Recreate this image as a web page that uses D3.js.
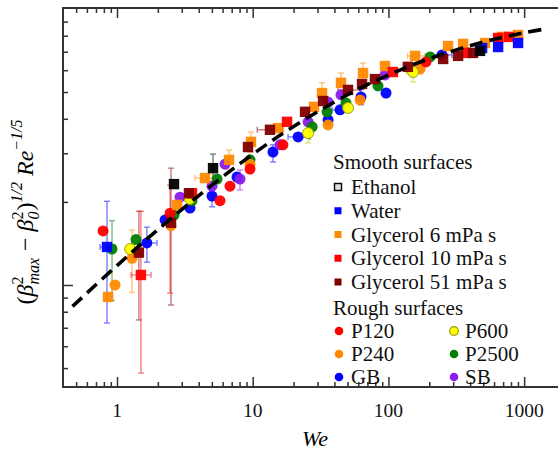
<!DOCTYPE html>
<html><head><meta charset="utf-8">
<script src="https://cdn.jsdelivr.net/npm/d3@7"></script>
<style>body{margin:0;background:#fff}svg{display:block}</style>
</head><body><svg id="c" width="558" height="452"></svg>
<script>
// ---------- data (We, y) ----------
const xMajorTicks = [1, 10, 100, 1000];
const xTickLabels = ["1", "10", "100", "1000"];
const yMajorTicks = [1];

const ethanol = [[2.63,2.32],[5.1,2.65],[473,7.05]];
const water = [[0.844,1.373],[490,7.22],[643,7.28],[902,7.53]];
const gly6 = [[0.859,0.905],[2.77,1.95],[4.45,2.44],[6.69,2.84],[9.71,3.30],[15.4,3.70],[28.3,4.42],[32.4,4.96],[44.7,5.40],[65.0,5.86],[94.4,6.21],[157,6.76],[275,7.34],[355,7.47],[515,7.53],[687,7.92],[902,8.05]];
const gly10 = [[1.50,1.087],[3.57,2.15],[17.9,3.90],[108,5.91],[373,6.93],[643,7.85],[774,7.92]];
const gly51 = [[1.45,1.31],[2.50,1.68],[3.39,2.15],[9.23,3.16],[13.4,3.65],[24.3,4.24],[33.0,4.64],[50.4,5.09],[63.9,5.35],[79.6,5.57],[139,6.17],[253,6.59],[326,6.76],[420,6.93]];
const p120 = [[0.789,1.57],[2.46,1.82],[5.74,2.02],[6.80,2.28],[9.55,2.63],[16.7,3.22],[189,6.43]];
const p240 = [[0.967,1.0],[1.29,1.25],[2.50,1.64],[9.55,2.74],[35.9,3.80],[61.8,4.68],[171,6.06]];
const p600 = [[1.25,1.35],[3.45,2.05],[25.6,3.55],[50.4,4.38],[152,5.91]];
const p2500 = [[0.919,1.35],[1.38,1.46],[2.63,1.79],[3.57,2.02],[5.46,2.42],[9.55,2.84],[27.4,3.74],[35.3,4.24],[48.7,4.56],[83.8,5.26],[203,6.70]];
const gb = [[1.66,1.42],[2.26,1.72],[3.45,1.90],[5.01,2.10],[7.66,2.46],[14.1,3.03],[21.6,3.44],[35.9,3.96],[44.0,4.31],[62.8,4.80],[96.0,4.96],[248,6.81]];
const sb = [[2.91,2.08],[5.01,2.28],[6.25,2.74],[8.06,2.42],[15.9,3.22],[25.6,3.90],[35.9,4.60],[44.7,4.88],[94.4,5.77]];

// error bars: [series, We, y, WeLo, WeHi, yLo, yHi]
const errorBars = [
  ["water",0.844,1.373,0.75,0.966,0.728,2.01],
  ["p2500",0.919,1.35,null,null,0.88,1.71],
  ["p120",0.789,1.57,0.74,0.84,null,null],
  ["p240",1.29,1.25,null,null,0.94,1.58],
  ["gly51",1.45,1.31,null,null,0.747,1.85],
  ["gly10",1.50,1.087,1.27,1.78,0.48,1.85],
  ["gb",1.66,1.42,1.43,1.97,1.21,1.62],
  ["gly51",2.50,1.68,null,null,0.846,2.65],
  ["p120",2.46,1.82,null,null,0.935,2.30],
  ["ethanol",5.1,2.65,null,null,2.36,2.98],
  ["gly6",4.45,2.44,3.76,5.28,null,null],
  ["gly6",6.69,2.84,null,null,2.61,3.08],
  ["gly6",9.71,3.30,null,null,3.03,3.58],
  ["gly51",13.4,3.65,10.8,16.7,null,null],
  ["gb",14.1,3.03,null,null,2.79,3.22],
  ["sb",8.06,2.42,null,null,2.21,2.61],
  ["gb",5.01,2.10,null,null,1.92,2.25],
  ["p600",25.6,3.55,null,null,3.27,3.86],
  ["gb",21.6,3.44,18.2,26.4,null,null],
  ["gly6",32.4,4.96,null,null,4.56,5.40],
  ["gly6",44.7,5.40,null,null,4.96,5.86],
  ["gly6",65.0,5.86,null,null,5.40,6.37],
  ["gb",44.0,4.31,38.4,52.1,null,null],
  ["gly51",50.4,5.09,42.5,61.8,null,null],
  ["p600",152,5.91,135,175,5.44,6.32],
  ["gly6",157,6.76,138,185,null,null],
  ["gb",248,6.81,209,294,null,null],
  ["gb",62.8,4.80,null,null,4.50,5.10]
];

// dashed fit line
const fitWe = [0.47,1,2,5,10,20,50,100,200,500,1000,1500];
const fitY  = [0.837,1.176,1.587,2.30,2.975,3.753,4.887,5.764,6.604,7.583,8.195,8.50];

const seriesInfo = {
  ethanol:{name:"Ethanol", data:ethanol, shape:"square", color:"#000000"},
  water:{name:"Water", data:water, shape:"square", color:"#0000ff"},
  gly6:{name:"Glycerol 6 mPa s", data:gly6, shape:"square", color:"#ff8a00"},
  gly10:{name:"Glycerol 10 mPa s", data:gly10, shape:"square", color:"#ff0000"},
  gly51:{name:"Glycerol 51 mPa s", data:gly51, shape:"square", color:"#800000"},
  p120:{name:"P120", data:p120, shape:"circle", color:"#ff0000"},
  p240:{name:"P240", data:p240, shape:"circle", color:"#ff8a00"},
  p600:{name:"P600", data:p600, shape:"circle", color:"#ffff00", stroke:"#9a9a00"},
  p2500:{name:"P2500", data:p2500, shape:"circle", color:"#008000"},
  gb:{name:"GB", data:gb, shape:"circle", color:"#0000ff"},
  sb:{name:"SB", data:sb, shape:"circle", color:"#8a1cf0"}
};
const drawOrder = ["gb","sb","p2500","p240","p120","p600","gly6","gly10","gly51","water","ethanol"];

// ---------- layout ----------
const L = 63, R = 557, T = 8, B = 387;
const svg = d3.select("#c");
const x = d3.scaleLog().domain([0.400, 1746]).range([L, R]);
const y = d3.scaleLog().domain([0.427, 10.08]).range([B, T]);
const serif = "'Liberation Serif','Times New Roman',serif";
const axisColor = "#333";

function minorLog(domain){
  const out=[]; for(let e=-2;e<5;e++){const d=Math.pow(10,e);for(let k=2;k<=9;k++){const v=k*d; if(v>domain[0]*1.01 && v<domain[1]*0.99) out.push(v);}}
  return out;
}
const xMinor = minorLog(x.domain());
const yMinor = minorLog(y.domain());

function styleAxis(g){ g.select(".domain").remove(); g.selectAll("line").attr("stroke",axisColor).attr("stroke-width",1.5); g.selectAll("text").remove(); }

svg.append("g").attr("transform",`translate(0,${B})`).call(d3.axisBottom(x).tickValues(xMinor).tickSizeInner(-5).tickSizeOuter(0).tickFormat("")).call(styleAxis);
svg.append("g").attr("transform",`translate(0,${B})`).call(d3.axisBottom(x).tickValues(xMajorTicks).tickSizeInner(-10).tickSizeOuter(0).tickFormat("")).call(styleAxis);
svg.append("g").attr("transform",`translate(0,${T})`).call(d3.axisTop(x).tickValues(xMinor).tickSizeInner(-5).tickSizeOuter(0).tickFormat("")).call(styleAxis);
svg.append("g").attr("transform",`translate(0,${T})`).call(d3.axisTop(x).tickValues(xMajorTicks).tickSizeInner(-10).tickSizeOuter(0).tickFormat("")).call(styleAxis);
svg.append("g").attr("transform",`translate(${L},0)`).call(d3.axisLeft(y).tickValues(yMinor).tickSizeInner(-5).tickSizeOuter(0).tickFormat("")).call(styleAxis);
svg.append("g").attr("transform",`translate(${L},0)`).call(d3.axisLeft(y).tickValues(yMajorTicks).tickSizeInner(-10).tickSizeOuter(0).tickFormat("")).call(styleAxis);

svg.append("line").attr("x1",L).attr("x2",558).attr("y1",T).attr("y2",T).attr("stroke",axisColor).attr("stroke-width",2);
svg.append("line").attr("x1",L).attr("x2",558).attr("y1",B).attr("y2",B).attr("stroke",axisColor).attr("stroke-width",2);
svg.append("line").attr("x1",L).attr("x2",L).attr("y1",T-1).attr("y2",B+1).attr("stroke",axisColor).attr("stroke-width",2);

svg.append("g").selectAll("text").data(xMajorTicks).join("text")
  .attr("x",d=>x(d)).attr("y",417).attr("text-anchor","middle")
  .attr("font-family",serif).attr("font-size",19.5).attr("fill","#111")
  .text((d,i)=>xTickLabels[i]);

svg.append("text").attr("x",315).attr("y",446).attr("text-anchor","middle")
  .attr("font-family",serif).attr("font-size",22).attr("font-style","italic").text("We");

(function(){
  const g = svg.append("g").attr("transform","translate(33,212) rotate(-90)");
  const big=24, small=16;
  const pieces = [
    {t:"(", s:big},
    {t:"β", s:big, it:true},
    {stack:["2","max"], s:small},
    {t:" − ", s:big},
    {t:"β", s:big, it:true},
    {stack:["2","0"], s:small},
    {t:")", s:big},
    {t:"1/2", s:small, dy:-11, it:true},
    {t:" ", s:big},
    {t:"Re", s:big, it:true},
    {t:"−1/5", s:small, dy:-11, it:true}
  ];
  let cx=0; const els=[];
  pieces.forEach(p=>{
    if(p.stack){
      const a=g.append("text").attr("font-family",serif).attr("font-size",p.s).attr("y",-10).text(p.stack[0]);
      const b=g.append("text").attr("font-family",serif).attr("font-size",p.s).attr("font-style","italic").attr("y",6).text(p.stack[1]);
      a.attr("x",cx); b.attr("x",cx);
      els.push(a,b);
      cx += Math.max(a.node().getComputedTextLength(), b.node().getComputedTextLength())+1;
    } else {
      const e=g.append("text").attr("font-family",serif).attr("font-size",p.s).attr("y",p.dy||0)
        .attr("font-style",p.it?"italic":"normal").style("white-space","pre").text(p.t);
      e.attr("x",cx); els.push(e);
      cx += e.node().getComputedTextLength();
    }
  });
  const off=-cx/2;
  els.forEach(e=>e.attr("x",+e.attr("x")+off));
})();

svg.append("clipPath").attr("id","clip").append("rect").attr("x",L).attr("y",T).attr("width",R-L+2).attr("height",B-T);
const plot = svg.append("g").attr("clip-path","url(#clip)");

const eg = plot.append("g");
errorBars.forEach(([k,wx,wy,xl,xh,yl,yh])=>{
  const c = k==="p600" ? "#c8c800" : seriesInfo[k].color;
  const px=x(wx), py=y(wy), cap=3;
  const grp = eg.append("g").attr("stroke",c).attr("stroke-width",1.3).attr("opacity",0.55);
  if(yl!=null){
    grp.append("line").attr("x1",px).attr("x2",px).attr("y1",y(yl)).attr("y2",y(yh));
    grp.append("line").attr("x1",px-cap).attr("x2",px+cap).attr("y1",y(yl)).attr("y2",y(yl));
    grp.append("line").attr("x1",px-cap).attr("x2",px+cap).attr("y1",y(yh)).attr("y2",y(yh));
  }
  if(xl!=null){
    grp.append("line").attr("x1",x(xl)).attr("x2",x(xh)).attr("y1",py).attr("y2",py);
    grp.append("line").attr("x1",x(xl)).attr("x2",x(xl)).attr("y1",py-cap).attr("y2",py+cap);
    grp.append("line").attr("x1",x(xh)).attr("x2",x(xh)).attr("y1",py-cap).attr("y2",py+cap);
  }
});

drawOrder.forEach(k=>{
  const s = seriesInfo[k];
  const g = plot.append("g").attr("opacity",0.95);
  if(s.shape==="square"){
    g.selectAll("rect").data(s.data).join("rect")
      .attr("x",d=>x(d[0])-5.2).attr("y",d=>y(d[1])-5.2).attr("width",10.4).attr("height",10.4)
      .attr("fill",s.color);
  } else {
    g.selectAll("circle").data(s.data).join("circle")
      .attr("cx",d=>x(d[0])).attr("cy",d=>y(d[1])).attr("r",5.5)
      .attr("fill",s.color).attr("stroke",s.stroke||"none").attr("stroke-width",1);
  }
});

const fitPts = fitWe.map((w,i)=>[w,fitY[i]]);
plot.append("path").datum(fitPts)
  .attr("d",d3.line().x(d=>x(d[0])).y(d=>y(d[1])).curve(d3.curveCatmullRom))
  .attr("fill","none").attr("stroke","#000").attr("stroke-width",3.6).attr("stroke-dasharray","13,7");

const lg = svg.append("g").attr("font-family",serif).attr("font-size",21).attr("fill","#111");
lg.append("text").attr("x",333).attr("y",169).text("Smooth surfaces");
const smoothKeys=["ethanol","water","gly6","gly10","gly51"];
smoothKeys.forEach((k,i)=>{
  const cy = 187 + i*23.75, s=seriesInfo[k];
  lg.append("rect").attr("x",334.5).attr("y",cy-3.5).attr("width",7).attr("height",7)
    .attr("fill",k==="ethanol"?"#dcdcdc":s.color).attr("stroke",k==="ethanol"?"#000":"none").attr("stroke-width",1.4);
  lg.append("text").attr("x",351).attr("y",cy+7).text(s.name);
});
lg.append("text").attr("x",333).attr("y",315).text("Rough surfaces");
const roughKeys=[["p120","p600"],["p240","p2500"],["gb","sb"]];
roughKeys.forEach((row,i)=>{
  const cy = 331 + i*23;
  row.forEach((k,j)=>{
    const s=seriesInfo[k], mx = j===0?339:454, tx = j===0?351:465;
    lg.append("circle").attr("cx",mx).attr("cy",cy).attr("r",4.3).attr("fill",s.color)
      .attr("stroke",s.stroke||"none").attr("stroke-width",1.2);
    lg.append("text").attr("x",tx).attr("y",cy+7).text(s.name);
  });
});
</script>
</body></html>
